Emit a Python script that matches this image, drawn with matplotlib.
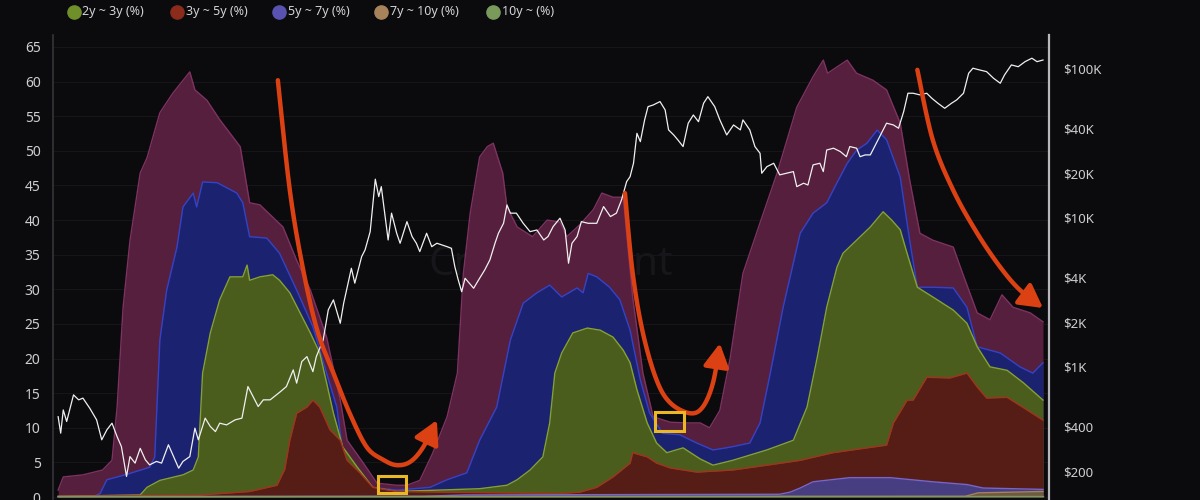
import numpy as np
import matplotlib
matplotlib.use('Agg')
import matplotlib.pyplot as plt
from matplotlib.lines import Line2D
from matplotlib.patches import Rectangle
from matplotlib.ticker import FixedLocator, NullLocator

# ---------------- data (decimal years, % of supply / USD) ----------------
m6_12_x = [2014.24, 2014.30, 2014.53, 2014.76, 2014.87, 2014.93, 2015.00, 2015.08, 2015.20, 2015.28,
           2015.43, 2015.58, 2015.78, 2015.84, 2015.98, 2016.13, 2016.37, 2016.48, 2016.60, 2016.87,
           2017.03, 2017.19, 2017.38, 2017.54, 2017.62, 2017.81, 2017.97, 2018.20, 2018.32, 2018.47,
           2018.62, 2018.79, 2018.91, 2018.98, 2019.06, 2019.17, 2019.26, 2019.33, 2019.44, 2019.49,
           2019.61, 2019.79, 2019.96, 2020.11, 2020.19, 2020.34, 2020.50, 2020.60, 2020.73, 2020.85,
           2020.96, 2021.08, 2021.20, 2021.40, 2021.60, 2021.75, 2021.86, 2021.98, 2022.10, 2022.25,
           2022.45, 2022.65, 2022.88, 2023.07, 2023.19, 2023.24, 2023.47, 2023.58, 2023.77, 2023.93,
           2024.09, 2024.20, 2024.32, 2024.47, 2024.71, 2024.82, 2024.99, 2025.14, 2025.28, 2025.41,
           2025.61, 2025.76]
m6_12_y = [1.0, 2.9, 3.2, 3.9, 5.3, 13.0, 27.4, 37.0, 46.8, 49.0,
           55.5, 58.3, 61.4, 58.8, 57.3, 54.5, 50.6, 42.5, 42.2, 39.0,
           34.2, 29.9, 23.1, 14.0, 8.2, 4.9, 2.0, 1.7, 1.7, 2.4,
           6.3, 11.6, 17.9, 32.3, 41.0, 49.1, 50.6, 51.1, 46.8, 41.9,
           39.0, 37.6, 40.0, 39.7, 37.6, 39.3, 41.5, 43.9, 43.3, 43.3,
           28.9, 17.9, 11.6, 10.8, 10.7, 10.7, 10.0, 12.5, 20.0, 32.3,
           39.6, 46.8, 56.3, 60.7, 63.1, 61.2, 63.1, 61.2, 60.2, 58.8,
           54.0, 45.8, 38.1, 37.1, 36.1, 32.3, 26.6, 25.6, 29.2, 27.4,
           26.6, 25.3]

y1_2_x = [2014.24, 2014.67, 2014.73, 2014.81, 2015.05, 2015.31, 2015.37, 2015.43, 2015.51, 2015.63,
          2015.70, 2015.82, 2015.86, 2015.93, 2016.10, 2016.33, 2016.40, 2016.48, 2016.68, 2016.83,
          2017.03, 2017.22, 2017.38, 2017.50, 2017.57, 2017.74, 2017.92, 2018.20, 2018.59, 2018.79,
          2019.02, 2019.17, 2019.37, 2019.53, 2019.68, 2019.84, 2019.99, 2020.13, 2020.31, 2020.38,
          2020.44, 2020.54, 2020.69, 2020.81, 2020.93, 2021.05, 2021.16, 2021.31, 2021.51, 2021.71,
          2021.90, 2022.10, 2022.33, 2022.45, 2022.57, 2022.72, 2022.92, 2023.07, 2023.23, 2023.35,
          2023.47, 2023.58, 2023.70, 2023.82, 2023.93, 2024.09, 2024.20, 2024.29, 2024.47, 2024.71,
          2024.87, 2024.99, 2025.26, 2025.49, 2025.64, 2025.76]
y1_2_y = [0.0, 0.2, 0.5, 2.5, 3.3, 4.3, 5.8, 22.7, 29.9, 36.1,
          41.9, 43.9, 41.9, 45.5, 45.4, 43.9, 42.5, 37.6, 37.4, 35.2,
          29.9, 24.6, 17.9, 13.0, 6.4, 3.9, 1.4, 1.0, 1.4, 2.5,
          3.5, 8.2, 13.0, 22.7, 28.0, 29.5, 30.6, 28.9, 30.2, 29.5,
          32.3, 31.8, 30.3, 28.5, 24.1, 16.9, 12.1, 9.2, 9.0, 7.8,
          6.8, 7.2, 7.8, 10.7, 17.9, 27.4, 38.1, 41.0, 42.5, 45.4,
          48.2, 50.1, 51.1, 53.0, 51.6, 46.2, 37.1, 30.3, 30.3, 30.2,
          27.4, 21.7, 20.8, 18.8, 17.9, 19.4]

y2_3_x = [2014.24, 2015.20, 2015.28, 2015.43, 2015.70, 2015.82, 2015.88, 2015.93, 2016.02, 2016.13,
          2016.25, 2016.40, 2016.45, 2016.48, 2016.60, 2016.75, 2016.83, 2016.95, 2017.07, 2017.19,
          2017.30, 2017.38, 2017.46, 2017.57, 2017.74, 2017.92, 2018.20, 2019.17, 2019.49, 2019.61,
          2019.76, 2019.91, 2019.99, 2020.05, 2020.13, 2020.26, 2020.43, 2020.58, 2020.73, 2020.85,
          2020.93, 2021.01, 2021.13, 2021.24, 2021.36, 2021.55, 2021.75, 2021.90, 2022.13, 2022.53,
          2022.84, 2023.00, 2023.12, 2023.23, 2023.35, 2023.42, 2023.58, 2023.74, 2023.89, 2023.99,
          2024.09, 2024.17, 2024.29, 2024.47, 2024.71, 2024.87, 2024.99, 2025.14, 2025.34, 2025.53,
          2025.76]
y2_3_y = [0.1, 0.3, 1.4, 2.4, 3.2, 3.9, 5.8, 17.9, 23.7, 28.5,
          31.8, 31.8, 33.5, 31.3, 31.8, 32.1, 31.3, 29.5, 26.6, 23.7,
          20.8, 16.5, 12.1, 7.2, 4.3, 1.4, 0.8, 1.2, 1.7, 2.5,
          3.9, 5.8, 10.7, 17.9, 20.8, 23.7, 24.4, 24.1, 23.1, 21.2,
          19.4, 15.5, 10.7, 7.8, 6.4, 7.1, 5.5, 4.6, 5.3, 6.8,
          8.2, 13.0, 20.2, 27.4, 33.2, 35.2, 37.1, 39.0, 41.2, 40.0,
          38.6, 35.2, 30.3, 28.9, 27.0, 25.1, 21.7, 18.8, 18.3, 16.5,
          14.0]

y3_5_x = [2014.24, 2015.90, 2016.25, 2016.48, 2016.80, 2016.89, 2016.95, 2017.03, 2017.15, 2017.22,
          2017.30, 2017.42, 2017.54, 2017.62, 2017.77, 2017.92, 2018.20, 2020.11, 2020.34, 2020.54,
          2020.73, 2020.93, 2020.96, 2021.13, 2021.24, 2021.40, 2021.71, 2022.13, 2022.53, 2022.92,
          2023.30, 2023.70, 2023.93, 2024.01, 2024.17, 2024.24, 2024.40, 2024.67, 2024.87, 2024.99,
          2025.10, 2025.34, 2025.57, 2025.76]
y3_5_y = [0.1, 0.3, 0.6, 0.8, 1.7, 4.0, 8.2, 12.1, 13.0, 14.0,
          13.0, 9.7, 8.2, 5.3, 3.5, 1.4, 0.8, 0.5, 0.7, 1.4,
          2.9, 4.9, 6.4, 5.8, 4.9, 4.2, 3.6, 3.9, 4.6, 5.3,
          6.4, 7.1, 7.5, 10.7, 14.0, 14.0, 17.3, 17.2, 17.9, 15.9,
          14.3, 14.4, 12.6, 11.1]

y5_7_x = [2014.24, 2018.50, 2019.00, 2022.68, 2022.80, 2022.92, 2023.07, 2023.50, 2023.97, 2024.47,
          2024.87, 2025.06, 2025.76]
y5_7_y = [0.05, 0.1, 0.3, 0.4, 0.7, 1.3, 2.2, 2.8, 2.8, 2.2,
          1.8, 1.3, 1.1]

y7_10_x = [2014.24, 2024.85, 2025.00, 2025.76]
y7_10_y = [0.05, 0.1, 0.6, 0.8]

y10p_x = [2014.24, 2025.76]
y10p_y = [0.15, 0.15]

price_x = [2014.24, 2014.27, 2014.30, 2014.34, 2014.42, 2014.48, 2014.53, 2014.61, 2014.69, 2014.75,
           2014.81, 2014.87, 2014.93, 2014.98, 2015.04, 2015.08, 2015.14, 2015.20, 2015.26, 2015.31,
           2015.39, 2015.45, 2015.53, 2015.59, 2015.65, 2015.70, 2015.78, 2015.84, 2015.88, 2015.96,
           2016.02, 2016.08, 2016.13, 2016.21, 2016.31, 2016.39, 2016.46, 2016.52, 2016.58, 2016.64,
           2016.72, 2016.84, 2016.91, 2016.99, 2017.03, 2017.09, 2017.15, 2017.22, 2017.26, 2017.34,
           2017.40, 2017.46, 2017.54, 2017.58, 2017.67, 2017.71, 2017.79, 2017.83, 2017.89, 2017.95,
           2017.99, 2018.02, 2018.06, 2018.10, 2018.14, 2018.20, 2018.24, 2018.32, 2018.38, 2018.43,
           2018.47, 2018.55, 2018.61, 2018.67, 2018.79, 2018.84, 2018.88, 2018.92, 2018.96, 2019.00,
           2019.10, 2019.17, 2019.23, 2019.29, 2019.35, 2019.39, 2019.45, 2019.49, 2019.53, 2019.60,
           2019.68, 2019.76, 2019.84, 2019.92, 2019.97, 2020.03, 2020.11, 2020.17, 2020.21, 2020.25,
           2020.31, 2020.36, 2020.44, 2020.54, 2020.62, 2020.70, 2020.77, 2020.83, 2020.89, 2020.93,
           2020.97, 2021.01, 2021.05, 2021.10, 2021.14, 2021.20, 2021.28, 2021.34, 2021.38, 2021.44,
           2021.49, 2021.55, 2021.61, 2021.67, 2021.73, 2021.79, 2021.84, 2021.92, 2021.98, 2022.06,
           2022.14, 2022.22, 2022.25, 2022.33, 2022.39, 2022.45, 2022.47, 2022.53, 2022.61, 2022.68,
           2022.76, 2022.84, 2022.88, 2022.96, 2023.01, 2023.07, 2023.15, 2023.19, 2023.23, 2023.31,
           2023.39, 2023.46, 2023.50, 2023.58, 2023.62, 2023.68, 2023.74, 2023.79, 2023.85, 2023.93,
           2024.01, 2024.07, 2024.13, 2024.18, 2024.24, 2024.32, 2024.40, 2024.46, 2024.53, 2024.61,
           2024.69, 2024.75, 2024.83, 2024.89, 2024.94, 2025.02, 2025.10, 2025.18, 2025.26, 2025.31,
           2025.39, 2025.47, 2025.55, 2025.63, 2025.69, 2025.76]
price_y = [463, 359, 514, 430, 649, 601, 617, 528, 441, 324,
           378, 419, 340, 292, 184, 250, 226, 284, 238, 220,
           232, 226, 300, 250, 209, 232, 250, 388, 324, 453,
           398, 368, 419, 408, 441, 453, 738, 632, 542, 601,
           601, 682, 738, 955, 778, 1086, 1172, 929, 1172, 1517,
           2415, 2818, 1963, 2679, 4592, 3648, 5495, 6095, 8091, 18200,
           13900, 16218, 10765, 7112, 10765, 7889, 6761, 9441, 7499, 6761,
           5943, 7889, 6412, 6761, 6412, 6252, 4710, 3837, 3199, 3936,
           3373, 3936, 4477, 5224, 6761, 7889, 9204, 12218, 10765, 10765,
           9204, 8091, 8299, 7112, 7499, 8750, 9954, 8299, 4966, 6761,
           7499, 9441, 9204, 9204, 11912, 10209, 10765, 13213, 17539, 18923,
           23281, 36983, 32509, 45499, 55847, 57280, 60395, 53088, 38994, 36058,
           33343, 30130, 43251, 49091, 44259, 58884, 65163, 55847, 45499, 36058,
           42073, 38994, 45499, 38994, 30130, 27164, 19953, 22080, 23281, 19454,
           19953, 20464, 16218, 17100, 16634, 22699, 23281, 20464, 28576, 29376,
           27861, 25763, 30130, 29376, 25763, 26485, 26485, 30130, 35156, 43251,
           42073, 39994, 51642, 68707, 68707, 66988, 68707, 63533, 58884, 54450,
           58884, 61944, 68707, 93541, 101158, 98401, 95940, 86696, 80168, 91201,
           106414, 103514, 111944, 118032, 111944, 114815]

legend_labels = ['2y ~ 3y (%)', '3y ~ 5y (%)', '5y ~ 7y (%)', '7y ~ 10y (%)', '10y ~ (%)']
legend_colors = ['#6e8f2a', '#8a2b1c', '#5a52b0', '#a8825a', '#7a9a5c']

left_ticks = [0, 5, 10, 15, 20, 25, 30, 35, 40, 45, 50, 55, 60, 65]
right_ticks = [200, 400, 1000, 2000, 4000, 10000, 20000, 40000, 100000]
right_labels = ['$200', '$400', '$1K', '$2K', '$4K', '$10K', '$20K', '$40K', '$100K']

# annotations (decimal year, %)
arrow1 = [(2016.81, 60.2), (2016.95, 44.3), (2017.10, 33.2), (2017.27, 24.1), (2017.46, 17.9),
          (2017.65, 12.1), (2017.85, 7.2), (2018.04, 5.4), (2018.20, 4.6), (2018.36, 5.1),
          (2018.51, 7.2), (2018.67, 11.1)]
arrow2 = [(2020.87, 43.9), (2020.96, 32.4), (2021.08, 23.7), (2021.24, 16.9), (2021.40, 13.6),
          (2021.63, 12.1), (2021.78, 13.0), (2021.90, 16.5), (2021.98, 22.2)]
arrow3 = [(2024.29, 61.7), (2024.47, 51.6), (2024.71, 44.3), (2024.99, 38.1), (2025.26, 33.2),
          (2025.49, 29.9), (2025.76, 27.3)]
boxes = [((2017.98, 0.6), 0.33, 2.4), ((2021.22, 9.5), 0.34, 2.8)]

# ---------------- drawing ----------------
BG = '#0b0b0d'
plt.rcParams['font.family'] = ['Noto Sans', 'DejaVu Sans']
fig = plt.figure(figsize=(12, 5), dpi=100, facecolor=BG)
ax = fig.add_axes([53 / 1200, 0.0, 996 / 1200, 465 / 500])
ax.set_facecolor(BG)

layers = [
    (m6_12_x, m6_12_y, '#551f3d', '#7e3262'),
    (y1_2_x, y1_2_y, '#1b2370', '#3343c9'),
    (y2_3_x, y2_3_y, '#4a5d1d', '#86a22e'),
    (y3_5_x, y3_5_y, '#561d16', '#a3331f'),
    (y5_7_x, y5_7_y, '#463e80', '#7565cf'),
    (y7_10_x, y7_10_y, '#6e5a3e', '#a8825a'),
    (y10p_x, y10p_y, '#4f6a3a', '#7a9a5c'),
]
for i, (xs, ys, fc, ec) in enumerate(layers):
    ax.fill_between(xs, 0, ys, color=fc, lw=0, zorder=2 + i)
    ax.plot(xs, ys, color=ec, lw=1.0, zorder=2.5 + i)

ax.set_xlim(2014.18, 2025.83)
ax.set_ylim(-0.43, 66.73)
ax.yaxis.set_major_locator(FixedLocator(left_ticks))
ax.set_yticklabels([str(t) for t in left_ticks])
ax.tick_params(axis='y', length=0, pad=9, labelcolor='#cfcfd2', labelsize=10)
ax.set_xticks([])
ax.grid(axis='y', color='#16161a', lw=0.8, zorder=0)
for s in ['top', 'bottom', 'right']:
    ax.spines[s].set_visible(False)
ax.spines['left'].set_color('#34343c')
ax.spines['left'].set_linewidth(1.2)

ax2 = ax.twinx()
ax2.set_yscale('log')
ax2.plot(price_x, price_y, color='#f0f0f0', lw=0.9, zorder=20)
ax2.set_ylim(127.8, 169000)
ax2.yaxis.set_major_locator(FixedLocator(right_ticks))
ax2.yaxis.set_minor_locator(NullLocator())
ax2.set_yticklabels(right_labels)
ax2.tick_params(axis='y', length=0, pad=10, labelcolor='#cfcfd2', labelsize=9.5)
for s in ['top', 'bottom', 'left']:
    ax2.spines[s].set_visible(False)
ax2.spines['right'].set_color('#b8b8bc')
ax2.spines['right'].set_linewidth(1.6)

# watermark
ax.text(0.5, 0.505, 'CryptoQuant', transform=ax.transAxes, ha='center', va='center',
        fontsize=29, color='#17171b', fontweight='bold', zorder=1.5)


def smooth(pts, n=12):
    p = np.array(pts, dtype=float)
    p = np.vstack([p[0], p, p[-1]])
    out = []
    for i in range(1, len(p) - 2):
        p0, p1, p2, p3 = p[i - 1], p[i], p[i + 1], p[i + 2]
        for t in np.linspace(0, 1, n, endpoint=False):
            t2, t3 = t * t, t * t * t
            out.append(0.5 * ((2 * p1) + (-p0 + p2) * t + (2 * p0 - 5 * p1 + 4 * p2 - p3) * t2
                              + (-p0 + 3 * p1 - 3 * p2 + p3) * t3))
    out.append(p[-2])
    return np.array(out)


ARROW = '#dc4113'
for pts in (arrow1, arrow2, arrow3):
    c = smooth(pts)
    ax2.plot(c[:-3, 0], c[:-3, 1], color=ARROW, lw=3.2, solid_capstyle='round',
             transform=ax.transData, zorder=30)
    ax2.annotate('', xy=tuple(c[-1]), xytext=tuple(c[-6]), xycoords=ax.transData,
                 textcoords=ax.transData,
                 arrowprops=dict(arrowstyle='-|>,head_length=1.0,head_width=0.55', color=ARROW,
                                 lw=3.2, shrinkA=0, shrinkB=0, mutation_scale=14), zorder=31)

for (xy, w, h) in boxes:
    ax2.add_patch(Rectangle(xy, w, h, fill=False, edgecolor='#e9b824', lw=2.2,
                            transform=ax.transData, zorder=32))

# legend (top row)
lx = [73.5, 177, 279, 381, 493]
for x, lab, col in zip(lx, legend_labels, legend_colors):
    fig.add_artist(Line2D([x / 1200], [1 - 12 / 500], marker='o', markersize=9.5, color=col,
                          lw=0, transform=fig.transFigure))
    fig.text((x + 8.5) / 1200, 1 - 12 / 500, lab, color='#d4d4d8', fontsize=9, va='center',
             ha='left')

fig.savefig('out.png', dpi=100, facecolor=BG)
